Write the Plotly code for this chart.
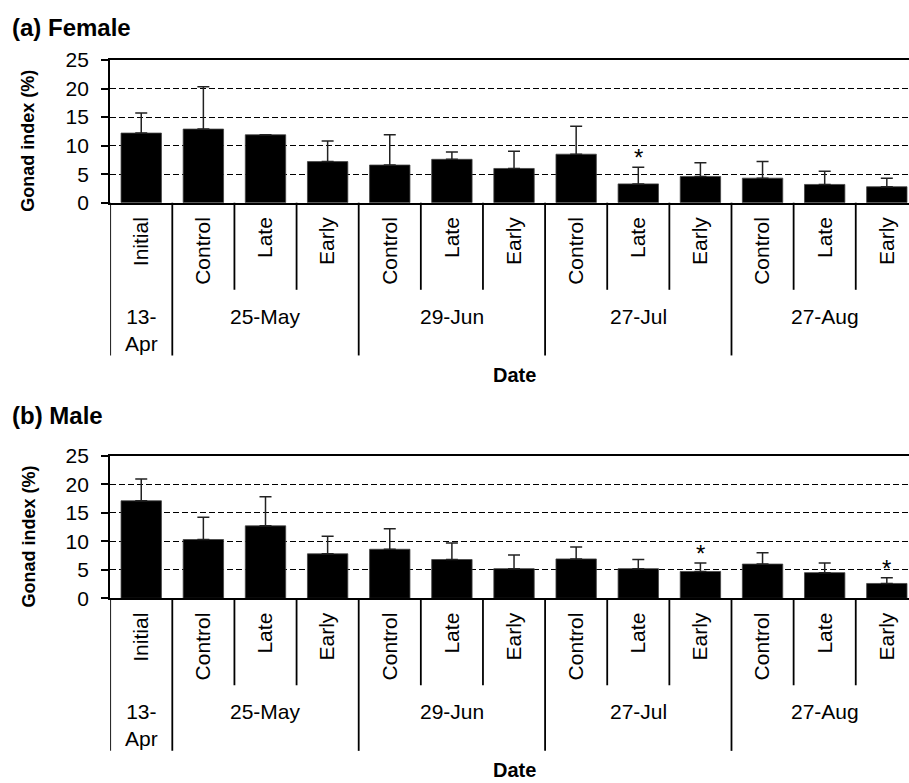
import plotly.graph_objects as go

# Sampling dates and treatment groups (one entry per bar)
dates = ["13-Apr", "25-May", "25-May", "25-May", "29-Jun", "29-Jun", "29-Jun",
         "27-Jul", "27-Jul", "27-Jul", "27-Aug", "27-Aug", "27-Aug"]
date_text = {"13-Apr": "13-<br>Apr"}
treatments = ["Initial", "Control", "Late", "Early", "Control", "Late", "Early",
              "Control", "Late", "Early", "Control", "Late", "Early"]

# Gonad index (%) mean and SD
female_mean = [12.2, 12.9, 11.9, 7.2, 6.6, 7.6, 6.0, 8.5, 3.3, 4.6, 4.3, 3.2, 2.8]
female_sd = [3.5, 7.4, None, 3.6, 5.3, 1.3, 3.0, 4.9, 2.9, 2.4, 2.9, 2.3, 1.5]
female_sig = ["", "", "", "", "", "", "", "", "*", "", "", "", ""]

male_mean = [17.1, 10.3, 12.7, 7.8, 8.6, 6.8, 5.2, 6.9, 5.2, 4.7, 6.0, 4.5, 2.6]
male_sd = [3.8, 3.9, 5.1, 3.1, 3.6, 2.9, 2.4, 2.1, 1.6, 1.5, 2.0, 1.7, 1.0]
male_sig = ["", "", "", "", "", "", "", "", "", "*", "", "", "*"]

y_ticks = [0, 5, 10, 15, 20, 25]

FONT = "Liberation Sans, Arial, sans-serif"
positions = list(range(len(treatments)))

fig = go.Figure()

panels = [
    ("(a) Female", female_mean, female_sd, female_sig, "x", "y", [0.7411, 0.9234], 0.9649),
    ("(b) Male", male_mean, male_sd, male_sig, "x2", "y2", [0.2359, 0.4180], 0.4690),
]

shapes = []
annotations = []

for title, mean, sd, sig, xa, ya, ydom, title_y in panels:
    fig.add_trace(go.Bar(
        x=positions, y=mean, xaxis=xa, yaxis=ya, width=0.65,
        marker=dict(color="black", line=dict(color="#444", width=0.8)),
        error_y=dict(type="data", array=sd, symmetric=False,
                     arrayminus=[0] * len(sd), color="#222",
                     thickness=1.5, width=6),
        showlegend=False, hoverinfo="skip",
    ))

    ydref = ya + " domain"

    # separators between categories (long ones between sampling dates)
    bounds = [-0.5] + [i + 0.5 for i in range(len(dates))]
    for b in bounds:
        i = int(b + 0.5)
        is_group = (i == 0 or i == len(dates) or dates[i - 1] != dates[i])
        shapes.append(dict(type="line", xref=xa, yref=ydref, x0=b, x1=b,
                           y0=0, y1=-1.07 if is_group else -0.61,
                           line=dict(color="black", width=1.8)))

    # date group labels
    groups = []
    for i, d in enumerate(dates):
        if groups and groups[-1][0] == d:
            groups[-1][2] = i
        else:
            groups.append([d, i, i])
    for d, i0, i1 in groups:
        annotations.append(dict(xref=xa, yref=ydref, x=(i0 + i1) / 2, y=-0.70,
                                text=date_text.get(d, d), showarrow=False,
                                xanchor="center", yanchor="top",
                                font=dict(family=FONT, size=21, color="black")))

    # significance marks
    for i, s in enumerate(sig):
        if s:
            top = mean[i] + (sd[i] or 0)
            annotations.append(dict(xref=xa, yref=ya, x=i, y=top, text=s,
                                    showarrow=False, yanchor="bottom", yshift=-6,
                                    font=dict(family=FONT, size=24, color="black")))

    # axis title "Date"
    annotations.append(dict(xref=xa, yref=ydref, x=(len(dates) - 1) / 2, y=-1.205,
                            text="<b>Date</b>", showarrow=False,
                            xanchor="center", yanchor="middle", borderpad=0,
                            font=dict(family=FONT, size=20, color="black")))

    # y-axis title
    annotations.append(dict(xref="paper", yref=ydref, x=28.5 / 909, y=0.43,
                            text="<b>Gonad index (%)</b>", showarrow=False,
                            textangle=-90, xanchor="center", yanchor="middle",
                            font=dict(family=FONT, size=18, color="black")))

    # panel title
    annotations.append(dict(xref="paper", yref="paper", x=10 / 909, y=title_y,
                            text="<b>" + title + "</b>", showarrow=False,
                            xanchor="left", yanchor="middle",
                            font=dict(family=FONT, size=24, color="black")))

xaxis_style = dict(
    domain=[0.1212, 1.0], range=[-0.5, 12.357], automargin=False,
    tickmode="array", tickvals=positions, ticktext=treatments,
    tickangle=-90, ticks="", ticklabelstandoff=4,
    tickfont=dict(family=FONT, size=21, color="black"),
    showline=True, linecolor="black", linewidth=2, mirror=True,
    showgrid=False, zeroline=False, fixedrange=True,
)
yaxis_style = dict(
    range=[0, 25], tickmode="array", tickvals=y_ticks, automargin=False,
    ticks="outside", ticklen=7, tickwidth=1.8, tickcolor="black",
    ticklabelstandoff=8,
    tickfont=dict(family=FONT, size=21, color="black"),
    showline=True, linecolor="black", linewidth=2,
    showgrid=True, gridcolor="black", gridwidth=1.3, griddash="6px,3px",
    zeroline=False, fixedrange=True,
)

fig.update_layout(
    width=909, height=783, autosize=False,
    margin=dict(l=0, r=0, t=0, b=0, pad=0, autoexpand=False),
    paper_bgcolor="white", plot_bgcolor="white",
    font=dict(family=FONT, color="black"),
    bargap=0.35,
    xaxis=dict(xaxis_style, anchor="y"),
    yaxis=dict(yaxis_style, domain=[0.7411, 0.9234], anchor="x"),
    xaxis2=dict(xaxis_style, anchor="y2"),
    yaxis2=dict(yaxis_style, domain=[0.2359, 0.4180], anchor="x2"),
    shapes=shapes,
    annotations=annotations,
)

fig.write_html("out.html")
